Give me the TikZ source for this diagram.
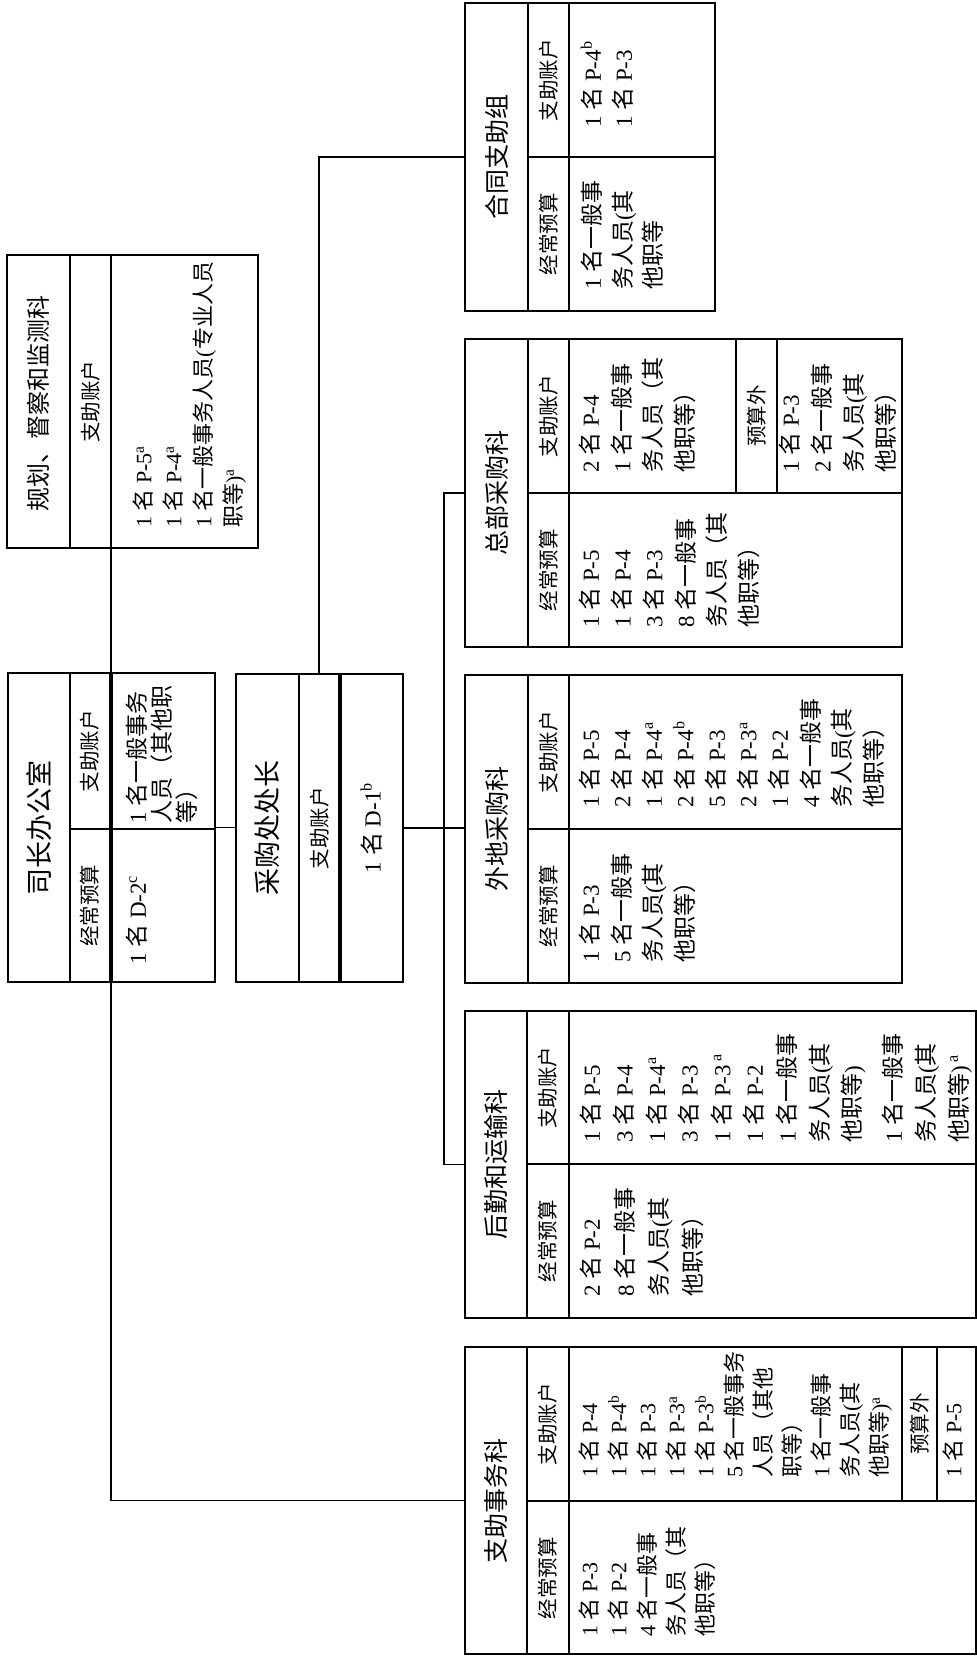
\documentclass[tikz,border=0pt]{standalone}
\usepackage{fontspec}
\setmainfont{Liberation Serif}
\newfontfamily\cjkf{Noto Sans CJK SC}
\XeTeXinterchartokenstate=1
\newXeTeXintercharclass\cjkcls
\newcount\cjkcnt
\def\setcjkrange#1#2{\cjkcnt=#1\relax\loop\XeTeXcharclass\cjkcnt=\cjkcls\relax\advance\cjkcnt by 1\relax\ifnum\cjkcnt<#2\relax\repeat}
\setcjkrange{"3000}{"3040}
\setcjkrange{"4E00}{"A000}
\setcjkrange{"FF00}{"FFF0}
\XeTeXcharclass`\(=0
\XeTeXcharclass`\)=0
\XeTeXinterchartoks 0 \cjkcls = {\cjkf}
\XeTeXinterchartoks 4095 \cjkcls = {\cjkf}
\XeTeXinterchartoks \cjkcls 0 = {\rmfamily}
\XeTeXinterchartoks \cjkcls 4095 = {\rmfamily}
\newcommand\mystrutx{\vrule width 0pt height 21pt depth 0pt}
\newcommand\sps[1]{\textsuperscript{#1}}
\begin{document}
\begin{tikzpicture}[x=1pt,y=-1pt,
  boxframe/.style={draw, line width=1.5pt, inner sep=0pt, outer sep=0pt, anchor=north west},
  divline/.style={line width=1.5pt},
  thkline/.style={line width=3.4pt},
  connline/.style={line width=1.3pt},
  hdr/.style={rotate=90, inner sep=0pt, font=\fontsize{25}{30}\selectfont},
  bighdr/.style={rotate=90, inner sep=0pt, font=\fontsize{27}{32}\selectfont},
  lbl/.style={rotate=90, inner sep=0pt, font=\fontsize{20.5}{24}\selectfont},
  cnt/.style={rotate=90, inner sep=0pt, anchor=north west, align=left, font=\fontsize{23}{#1}\selectfont},
  cnts/.style={rotate=90, inner sep=0pt, anchor=north west, align=left, font=\fontsize{22}{#1}\selectfont},
  cntc/.style={rotate=90, inner sep=0pt, font=\fontsize{23}{28}\selectfont},
]
\fill[white] (0,0) rectangle (977,1658);
\useasboundingbox (0,0) rectangle (977,1658);

% ---------- boxes ----------
\node[boxframe, minimum width=251pt, minimum height=293pt] (gh) at (7,255) {};
\node[boxframe, minimum width=207pt, minimum height=309pt] (sz) at (8,673) {};
\node[boxframe, minimum width=167pt, minimum height=308pt] (cg) at (236,674) {};
\node[boxframe, minimum width=250pt, minimum height=308pt] (ht) at (465,3) {};
\node[boxframe, minimum width=437pt, minimum height=308pt] (zb) at (465,339) {};
\node[boxframe, minimum width=437pt, minimum height=308pt] (wd) at (465,675) {};
\node[boxframe, minimum width=511pt, minimum height=307pt] (hq) at (465,1011) {};
\node[boxframe, minimum width=511pt, minimum height=307pt] (zs) at (465,1347) {};

% ---------- internal dividers ----------
\draw[divline] (70,255) -- (70,548);
\draw[divline] (111,255) -- (111,548);

\draw[divline] (70,673) -- (70,982);
\draw[thkline] (111,673) -- (111,982);
\draw[divline] (70,829) -- (215,829);

\draw[divline] (299,674) -- (299,982);
\draw[thkline] (340,674) -- (340,982);

\draw[divline] (528,3) -- (528,311);
\draw[divline] (569,3) -- (569,311);
\draw[divline] (528,157) -- (715,157);

\draw[divline] (528,339) -- (528,647);
\draw[divline] (569,339) -- (569,647);
\draw[divline] (528,493) -- (902,493);
\draw[divline] (736,339) -- (736,493);
\draw[divline] (777,339) -- (777,493);

\draw[divline] (528,675) -- (528,983);
\draw[divline] (569,675) -- (569,983);
\draw[divline] (528,829) -- (902,829);

\draw[divline] (527,1011) -- (527,1318);
\draw[divline] (569,1011) -- (569,1318);
\draw[divline] (527,1164) -- (976,1164);

\draw[divline] (527,1347) -- (527,1654);
\draw[divline] (569,1347) -- (569,1654);
\draw[divline] (527,1501) -- (976,1501);
\draw[divline] (902,1347) -- (902,1501);
\draw[divline] (937,1347) -- (937,1501);

% ---------- connectors ----------
\coordinate (mainx) at (111,0);
\coordinate (busx) at (444,0);
\coordinate (upx) at (319,0);
\draw[connline] (gh.south -| mainx) |- (zs.west);
\draw[connline] (sz.east) -- (sz.east -| cg.west);
\draw[connline] (cg.east) -- (cg.east -| wd.west);
\draw[connline] (cg.north -| upx) |- (ht.west);
\draw[connline] (zb.west) -- (zb.west -| busx) -- (hq.west -| busx) -- (hq.west);

% ---------- headers ----------
\node[hdr, font=\fontsize{24}{30}\selectfont] (ghh) at (38.5,403) {规划、督察和监测科};
\node[bighdr] (szh) at (39,827.5) {司长办公室};
\node[bighdr] (cgh) at (267.5,828) {采购处处长};
\node[hdr] (hth) at (496.5,157) {合同支助组};
\node[hdr] (zbh) at (496.5,493) {总部采购科};
\node[hdr] (wdh) at (496.5,829) {外地采购科};
\node[hdr] (hqh) at (496,1164.5) {后勤和运输科};
\node[hdr] (zsh) at (496,1500.5) {支助事务科};

% ---------- column labels ----------
\node[lbl] (ghl) at (90.5,401.5) {支助账户};
\node[lbl] (szl1) at (90,751) {支助账户};
\node[lbl] (szl2) at (90,905.5) {经常预算};
\node[lbl] (cgl) at (319.5,828) {支助账户};
\node[lbl] (htl1) at (548.5,80) {支助账户};
\node[lbl] (htl2) at (548.5,234) {经常预算};
\node[lbl] (zbl1) at (548.5,416) {支助账户};
\node[lbl] (zbl2) at (548.5,570) {经常预算};
\node[lbl] (zbl3) at (756.5,416) {预算外};
\node[lbl] (wdl1) at (548.5,752) {支助账户};
\node[lbl] (wdl2) at (548.5,906) {经常预算};
\node[lbl] (hql1) at (548,1087.5) {支助账户};
\node[lbl] (hql2) at (548,1241) {经常预算};
\node[lbl] (zsl1) at (548,1424) {支助账户};
\node[lbl] (zsl2) at (548,1578) {经常预算};
\node[lbl] (zsl3) at (919.5,1424) {预算外};

% ---------- contents ----------
\node[cnts=30] (ghc) at (130.2,528) {\mystrutx 1 名 P-5\sps{a}\\1 名 P-4\sps{a}\\1 名一般事务人员(专业人员\\职等)\sps{a}};

\node[cnt=25] (szc1) at (124.7,824) {\mystrutx 1 名一般事务\\人员（其他职\\等）};
\node[cnt=25] (szc2) at (124.7,965) {\mystrutx 1 名 D-2\sps{c}};

\node[cntc] (cgc) at (371.5,828) {1 名 D-1\sps{b}};

\node[cnt=31] (htc1) at (579.7,128) {\mystrutx 1 名 P-4\sps{b}\\1 名 P-3};
\node[cnt=30.5] (htc2) at (579.7,290) {\mystrutx 1 名一般事\\务人员(其\\他职等};

\node[cnt=31.5] (zbc1) at (577.7,473) {\mystrutx 2 名 P-4\\1 名一般事\\务人员（其\\他职等）};
\node[cnt=31.7] (zbc3) at (777.7,473) {\mystrutx 1 名 P-3\\2 名一般事\\务人员(其\\他职等）};
\node[cnt=31.7] (zbc2) at (577.7,628) {\mystrutx 1 名 P-5\\1 名 P-4\\3 名 P-3\\8 名一般事\\务人员（其\\他职等）};

\node[cnt=31.5] (wdc1) at (577.7,808) {\mystrutx 1 名 P-5\\2 名 P-4\\1 名 P-4\sps{a}\\2 名 P-4\sps{b}\\5 名 P-3\\2 名 P-3\sps{a}\\1 名 P-2\\4 名一般事\\务人员(其\\他职等）};
\node[cnt=31.5] (wdc2) at (577.7,963) {\mystrutx 1 名 P-3\\5 名一般事\\务人员(其\\他职等）};

\node[cnt=32.6] (hqc1) at (578.7,1143) {\mystrutx 1 名 P-5\\3 名 P-4\\1 名 P-4\sps{a}\\3 名 P-3\\1 名 P-3\,\sps{a}\\1 名 P-2\\1 名一般事\\务人员(其\\他职等)\\[8.5pt]1 名一般事\\务人员(其\\他职等)\,\sps{a}};
\node[cnt=34] (hqc2) at (578.7,1297) {\mystrutx 2 名 P-2\\8 名一般事\\务人员(其\\他职等）};

\node[cnts=29] (zsc1) at (576.2,1478) {\mystrutx 1 名 P-4\\1 名 P-4\sps{b}\\1 名 P-3\\1 名 P-3\sps{a}\\1 名 P-3\sps{b}\\5 名一般事务\\人员（其他\\职等）\\1 名一般事\\务人员(其\\他职等)\sps{a}};
\node[cnts=29] (zsc3) at (940.2,1478) {\mystrutx 1 名 P-5};
\node[cnts=29] (zsc2) at (576.2,1637) {\mystrutx 1 名 P-3\\1 名 P-2\\4 名一般事\\务人员（其\\他职等）};
\end{tikzpicture}
\end{document}
